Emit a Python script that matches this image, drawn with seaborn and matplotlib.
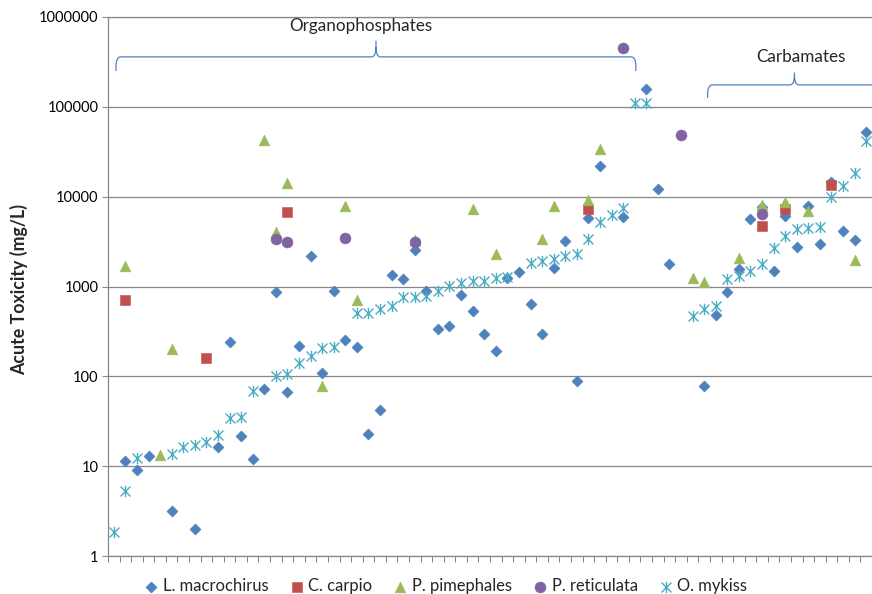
import numpy as np
import pandas as pd
import matplotlib
matplotlib.use("Agg")
import matplotlib.pyplot as plt
from matplotlib.path import Path
from matplotlib.patches import PathPatch
from matplotlib.transforms import blended_transform_factory
from matplotlib.ticker import FixedLocator, FixedFormatter, NullLocator
import seaborn as sns

# ---------------------------------------------------------------------------
# Data: acute toxicity (mg/L) per species, keyed by compound position (0..65)
# ---------------------------------------------------------------------------
N_COMPOUNDS = 66

lmac_idx = [1, 2, 3, 5, 7, 9, 10, 11, 12, 13, 14, 15, 16, 17, 18, 19, 20, 21, 22, 23,
            24, 25, 26, 27, 28, 29, 30, 31, 32, 33, 34, 35, 36, 37, 38, 39, 40, 41, 42,
            44, 46, 47, 48, 51, 52, 53, 54, 55, 56, 57, 58, 59, 60, 61, 62, 63, 64, 65]
lmac_val = [11.4, 9.0, 13.1, 3.15, 2.0, 16.4, 240, 21.4, 12.1, 72, 870, 67, 220, 2200,
            110, 880, 255, 210, 23, 42.5, 1350, 1220, 2560, 890, 338, 360, 808, 530,
            298, 193, 1240, 1440, 641, 298, 1600, 3250, 89.5, 5850, 21800, 6000,
            157000, 12100, 1790, 79, 484, 860, 1560, 5660, 7600, 1470, 6120, 2720,
            7900, 2990, 14500, 4200, 3300, 53000]

carp_idx = [1, 8, 15, 41, 56, 58, 62]
carp_val = [700, 158, 6700, 7300, 4730, 7260, 13600]

pim_idx = [1, 4, 5, 13, 14, 15, 18, 20, 21, 26, 31, 33, 37, 38, 41, 42, 50, 51, 54,
           56, 58, 60, 64]
pim_val = [1700, 13.4, 201, 43000, 4050, 14200, 79, 7800, 715, 3300, 7300, 2310, 3390,
           7800, 9200, 34000, 1240, 1110, 2100, 8100, 8700, 6840, 1950]

ret_idx = [14, 15, 20, 26, 44, 49, 56]
ret_val = [3350, 3120, 3440, 3120, 450000, 48000, 6440]

myk_idx = [0, 1, 2, 5, 6, 7, 8, 9, 10, 11, 12, 14, 15, 16, 17, 18, 19, 21, 22, 23, 24,
           25, 26, 27, 28, 29, 30, 31, 32, 33, 34, 36, 37, 38, 39, 40, 41, 42, 43, 44,
           45, 46, 50, 51, 52, 53, 54, 55, 56, 57, 58, 59, 60, 61, 62, 63, 64, 65]
myk_val = [1.85, 5.35, 12.2, 13.7, 16.4, 17.1, 18.6, 22.5, 34.4, 35.3, 69, 100, 105,
           141, 168, 208, 210, 502, 512, 565, 600, 760, 760, 780, 897, 1020, 1080, 1160,
           1160, 1238, 1290, 1820, 1930, 2040, 2170, 2320, 3390, 5180, 6300, 7480,
           110000, 110000, 470, 565, 600, 1207, 1315, 1500, 1790, 2670, 3670, 4350,
           4460, 4650, 9870, 13000, 18300, 42000]

species = ["L. macrochirus", "C. carpio", "P. pimephales", "P. reticulata", "O. mykiss"]
y_ticks = [1, 10, 100, 1000, 10000, 100000, 1000000]
y_tick_labels = ["1", "10", "100", "1000", "10000", "100000", "1000000"]

# ---------------------------------------------------------------------------
# Styling
# ---------------------------------------------------------------------------
sns.set_style("white")
plt.rcParams["font.family"] = ["Lato", "DejaVu Sans"]

GRID = "#878787"
COLORS = ["#4F81BD", "#C0504D", "#9BBB59", "#8064A2", "#4BACC6"]

# six-armed asterisk (an X crossed by a vertical bar)
star_path = Path(
    [(-1, -1), (1, 1), (-1, 1), (1, -1), (0, -1.15), (0, 1.15)],
    [Path.MOVETO, Path.LINETO, Path.MOVETO, Path.LINETO, Path.MOVETO, Path.LINETO],
)

series = [
    (lmac_idx, lmac_val, "D", 32, dict(edgecolor=COLORS[0], linewidth=0.4)),
    (carp_idx, carp_val, "s", 52, dict(edgecolor=COLORS[1], linewidth=0.4)),
    (pim_idx, pim_val, "^", 60, dict(edgecolor=COLORS[2], linewidth=0.4)),
    (ret_idx, ret_val, "o", 62, dict(edgecolor=COLORS[3], linewidth=0.4)),
    (myk_idx, myk_val, star_path, 68, dict(edgecolor=COLORS[4], linewidth=1.0)),
]

fig = plt.figure(figsize=(8.72, 5.94), dpi=100)
ax = fig.add_axes([108 / 872, 1 - 556 / 594, 764 / 872, 539 / 594])

for name, color, (idx, val, marker, size, extra) in zip(species, COLORS, series):
    df = pd.DataFrame({"compound": idx, "toxicity": val})
    sns.scatterplot(data=df, x="compound", y="toxicity", marker=marker, s=size,
                    color=color, label=name, legend=False, ax=ax, zorder=3, **extra)

# ---------------------------------------------------------------------------
# Axes
# ---------------------------------------------------------------------------
ax.set_yscale("log")
ax.set_ylim(1, 1e6)
ax.set_xlim(-0.5, N_COMPOUNDS - 0.5)
ax.yaxis.set_major_locator(FixedLocator(y_ticks))
ax.yaxis.set_major_formatter(FixedFormatter(y_tick_labels))
ax.yaxis.set_minor_locator(NullLocator())
ax.set_xticks(np.arange(-0.5, N_COMPOUNDS, 1.0))
ax.set_xticklabels([])
ax.xaxis.set_minor_locator(NullLocator())

ax.tick_params(axis="both", which="major", direction="out", length=4.0, width=0.75,
               color=GRID, bottom=True, left=True, top=False, right=False)
ax.tick_params(axis="y", labelsize=10.5, pad=3, labelcolor="black")
ax.grid(axis="y", color=GRID, linewidth=0.9)
ax.set_axisbelow(True)

for side in ["left", "bottom", "top"]:
    ax.spines[side].set_color(GRID)
    ax.spines[side].set_linewidth(0.9)
ax.spines["right"].set_visible(False)

ax.set_xlabel("")
ax.set_ylabel("Acute Toxicity (mg/L)", fontsize=12.8, fontweight="bold")
ax.yaxis.set_label_coords(-0.104, 0.495)

# ---------------------------------------------------------------------------
# Group braces
# ---------------------------------------------------------------------------
blend = blended_transform_factory(ax.transData, ax.transAxes)


def brace(x0, xm, x1, y_end, y_line, y_tip, cx=0.4, cy=0.018):
    verts = [
        (x0, y_end), (x0, y_line - cy),
        (x0, y_line), (x0 + cx, y_line),
        (xm - cx, y_line),
        (xm, y_line), (xm, y_line + cy),
        (xm, y_tip),
        (xm, y_line + cy),
        (xm, y_line), (xm + cx, y_line),
        (x1 - cx, y_line),
        (x1, y_line), (x1, y_line - cy),
        (x1, y_end),
    ]
    codes = [
        Path.MOVETO, Path.LINETO,
        Path.CURVE3, Path.CURVE3,
        Path.LINETO,
        Path.CURVE3, Path.CURVE3,
        Path.LINETO,
        Path.MOVETO,
        Path.CURVE3, Path.CURVE3,
        Path.LINETO,
        Path.CURVE3, Path.CURVE3,
        Path.LINETO,
    ]
    patch = PathPatch(Path(verts, codes), transform=blend, facecolor="none",
                      edgecolor="#4F81BD", linewidth=0.9, clip_on=False, zorder=2)
    ax.add_patch(patch)


brace(0.19, 22.65, 45.1, 0.900, 0.926, 0.956)
brace(51.3, 58.8, 66.3, 0.850, 0.874, 0.897)

ax.text(21.3, 0.983, "Organophosphates", transform=blend, ha="center", va="center",
        fontsize=12.3)
ax.text(59.4, 0.926, "Carbamates", transform=blend, ha="center", va="center",
        fontsize=12.3)

# ---------------------------------------------------------------------------
# Legend
# ---------------------------------------------------------------------------
handles, labels = ax.get_legend_handles_labels()
fig.legend(handles, labels, loc="center", bbox_to_anchor=(446 / 872, 1 - 586 / 594),
           ncol=5, frameon=False, fontsize=11.9, handlelength=0.8, handletextpad=0.3,
           columnspacing=1.3, borderaxespad=0, borderpad=0)

fig.savefig("out.png", dpi=100)
